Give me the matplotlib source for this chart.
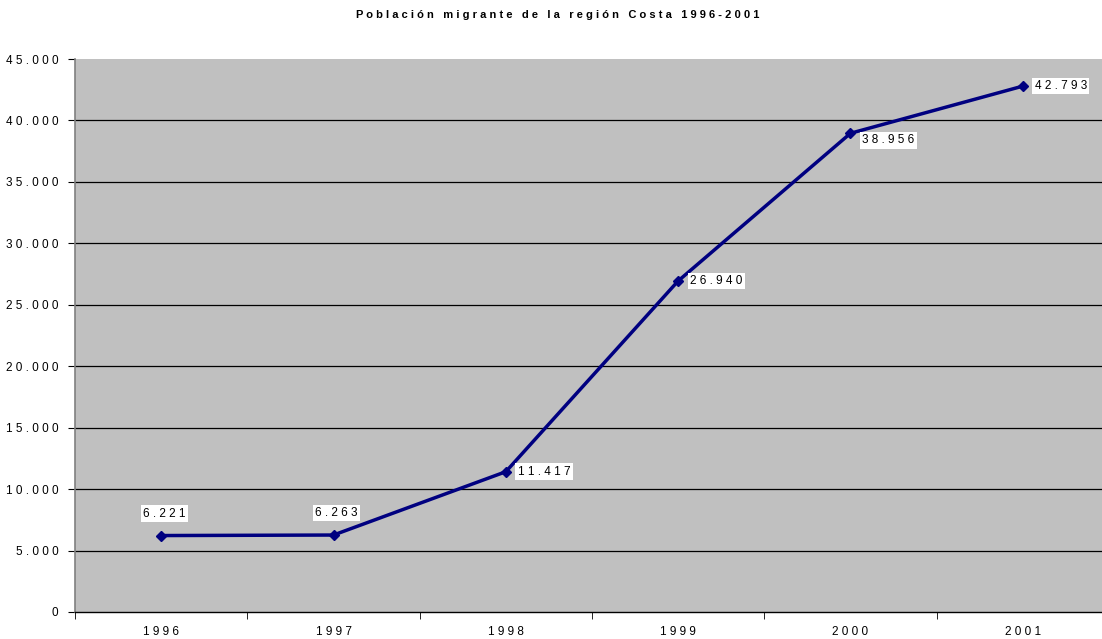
import matplotlib
matplotlib.use("Agg")
import matplotlib.pyplot as plt
from matplotlib.ticker import FixedLocator

years = ["1996", "1997", "1998", "1999", "2000", "2001"]
values = [6221, 6263, 11417, 26940, 38956, 42793]
yticks = [0, 5000, 10000, 15000, 20000, 25000, 30000, 35000, 40000, 45000]
title = "Población migrante de la región Costa 1996-2001"

FONT = ["Liberation Sans", "DejaVu Sans"]
plt.rcParams['font.family'] = FONT


def spaced(s, gap="   "):
    return gap.join(" ".join(w) for w in s.split(" "))


def fmt(v):
    return f"{v:,}".replace(",", ".")


W, H = 1102, 639
fig = plt.figure(figsize=(W / 100, H / 100), dpi=100)
left, right, top, bottom = 75, 1109, 59, 612
ax = fig.add_axes([left / W, (H - bottom) / H, (right - left) / W, (bottom - top) / H])
ax.set_facecolor("#C0C0C0")

x = list(range(len(years)))
ax.set_xlim(-0.5, len(years) - 0.5)
ax.set_ylim(0, 45000)

for t in yticks[1:-1]:
    ax.axhline(t, color="black", lw=0.9, zorder=1)

ax.plot(x, values, color="#000080", lw=2.5, marker="D", markersize=5.5, zorder=3)

for sp in ["top", "right"]:
    ax.spines[sp].set_visible(False)
ax.spines["left"].set_color("#808080")
ax.spines["left"].set_linewidth(1.2)
ax.spines["bottom"].set_color("black")
ax.spines["bottom"].set_linewidth(1.0)

ax.set_yticks(yticks)
ax.set_yticklabels([spaced(fmt(t)) for t in yticks], fontsize=8.5)
ax.tick_params(axis="y", direction="out", length=5, color="black", pad=7)

ax.set_xticks(x)
ax.set_xticklabels([spaced(y) for y in years], fontsize=8.5)
ax.tick_params(axis="x", which="major", length=0, pad=10)
ax.xaxis.set_minor_locator(FixedLocator([i + 0.5 for i in range(-1, len(years))]))
ax.tick_params(axis="x", which="minor", direction="out", length=5, color="black")

# data labels
offsets = [(3, 16, "center", "bottom"), (3, 16, "center", "bottom"),
           (12, 0, "left", "center"), (12, 0, "left", "center"),
           (12, -7, "left", "center"), (12, 0, "left", "center")]
for xi, v, (dx, dy, ha, va) in zip(x, values, offsets):
    ax.annotate(spaced(fmt(v)), (xi, v), xytext=(dx, dy), textcoords="offset pixels",
                ha=ha, va=va, fontsize=8.5, zorder=4,
                bbox=dict(boxstyle="square,pad=0.2", fc="white", ec="none"))

fig.text(558 / W, 1 - 15 / H, spaced(title),
         ha="center", va="center", fontsize=8, fontweight="bold")

fig.savefig("out.png", dpi=100)
